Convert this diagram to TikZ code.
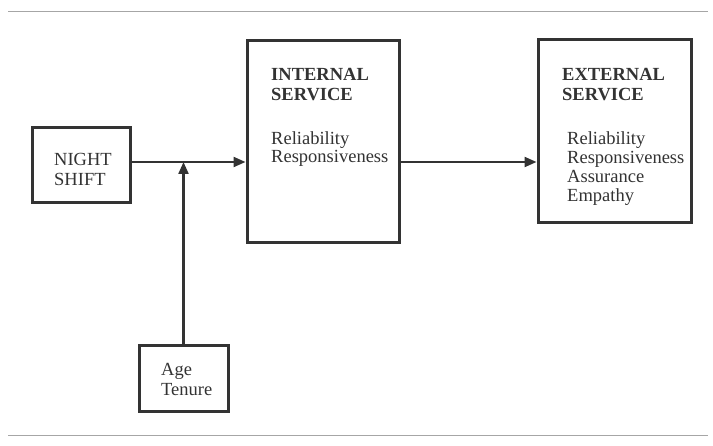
\documentclass[tikz,border=0pt]{standalone}
\usepackage{fontspec}
\setmainfont{Liberation Serif}
\usepackage{xcolor}
\usetikzlibrary{arrows.meta,positioning}
\definecolor{inkgray}{gray}{0.2}
\tikzset{
  framebox/.style={rectangle, draw=inkgray, line width=3pt, inner sep=0pt},
  headtext/.style={inner sep=0pt, anchor=base west, align=left, text=inkgray, font=\fontsize{18.5}{20}\selectfont\bfseries},
  itemtext/.style={inner sep=0pt, anchor=base west, align=left, text=inkgray, font=\fontsize{18.5}{19}\selectfont},
  linkarrow/.style={-{Triangle[length=12pt,width=10pt]}, draw=inkgray, line width=2.2pt},
  pagerule/.style={draw=gray!70, line width=1pt}
}
\begin{document}
\begin{tikzpicture}[x=1pt,y=-1pt]
\useasboundingbox (0,0) rectangle (713,446);
\fill[white] (0,0) rectangle (713,446);
% boxes
\node[framebox, minimum width=98pt, minimum height=75pt] (nightbox) at (81,165.5) {};
\node[framebox, minimum width=152pt, minimum height=202pt] (intbox) at (323,142) {};
\node[framebox, minimum width=153pt, minimum height=183pt] (extbox) at (614.5,131.5) {};
\node[framebox, minimum width=89pt, minimum height=66pt] (agebox) at (183.5,379) {};
% box texts (anchored at the last line)
\node[itemtext, font=\fontsize{18.5}{20}\selectfont] (nighttext) at (54,186) {NIGHT\\SHIFT};
\node[headtext] (inthead) at (271,101) {INTERNAL\\SERVICE};
\node[itemtext, font=\fontsize{18.5}{18}\selectfont] (intitems) at (271,162.3) {Reliability\\Responsiveness};
\node[headtext] (exthead) at (562,101) {EXTERNAL\\SERVICE};
\node[itemtext] (extitems) at (567,201.7) {Reliability\\Responsiveness\\Assurance\\Empathy};
\node[itemtext, font=\fontsize{18.5}{20}\selectfont] (agetext) at (161,396) {Age\\Tenure};
% connectors
\coordinate (branch) at (183.5,162);
\draw[linkarrow] (nightbox.east |- branch) -- (intbox.west |- branch);
\draw[linkarrow] (agebox.north) -- (branch);
\draw[linkarrow] (intbox.east |- branch) -- (extbox.west |- branch);
% page rules
\draw[pagerule] (8,12) -- (708,12);
\draw[pagerule] (8,435.5) -- (708,435.5);
\end{tikzpicture}
\end{document}
